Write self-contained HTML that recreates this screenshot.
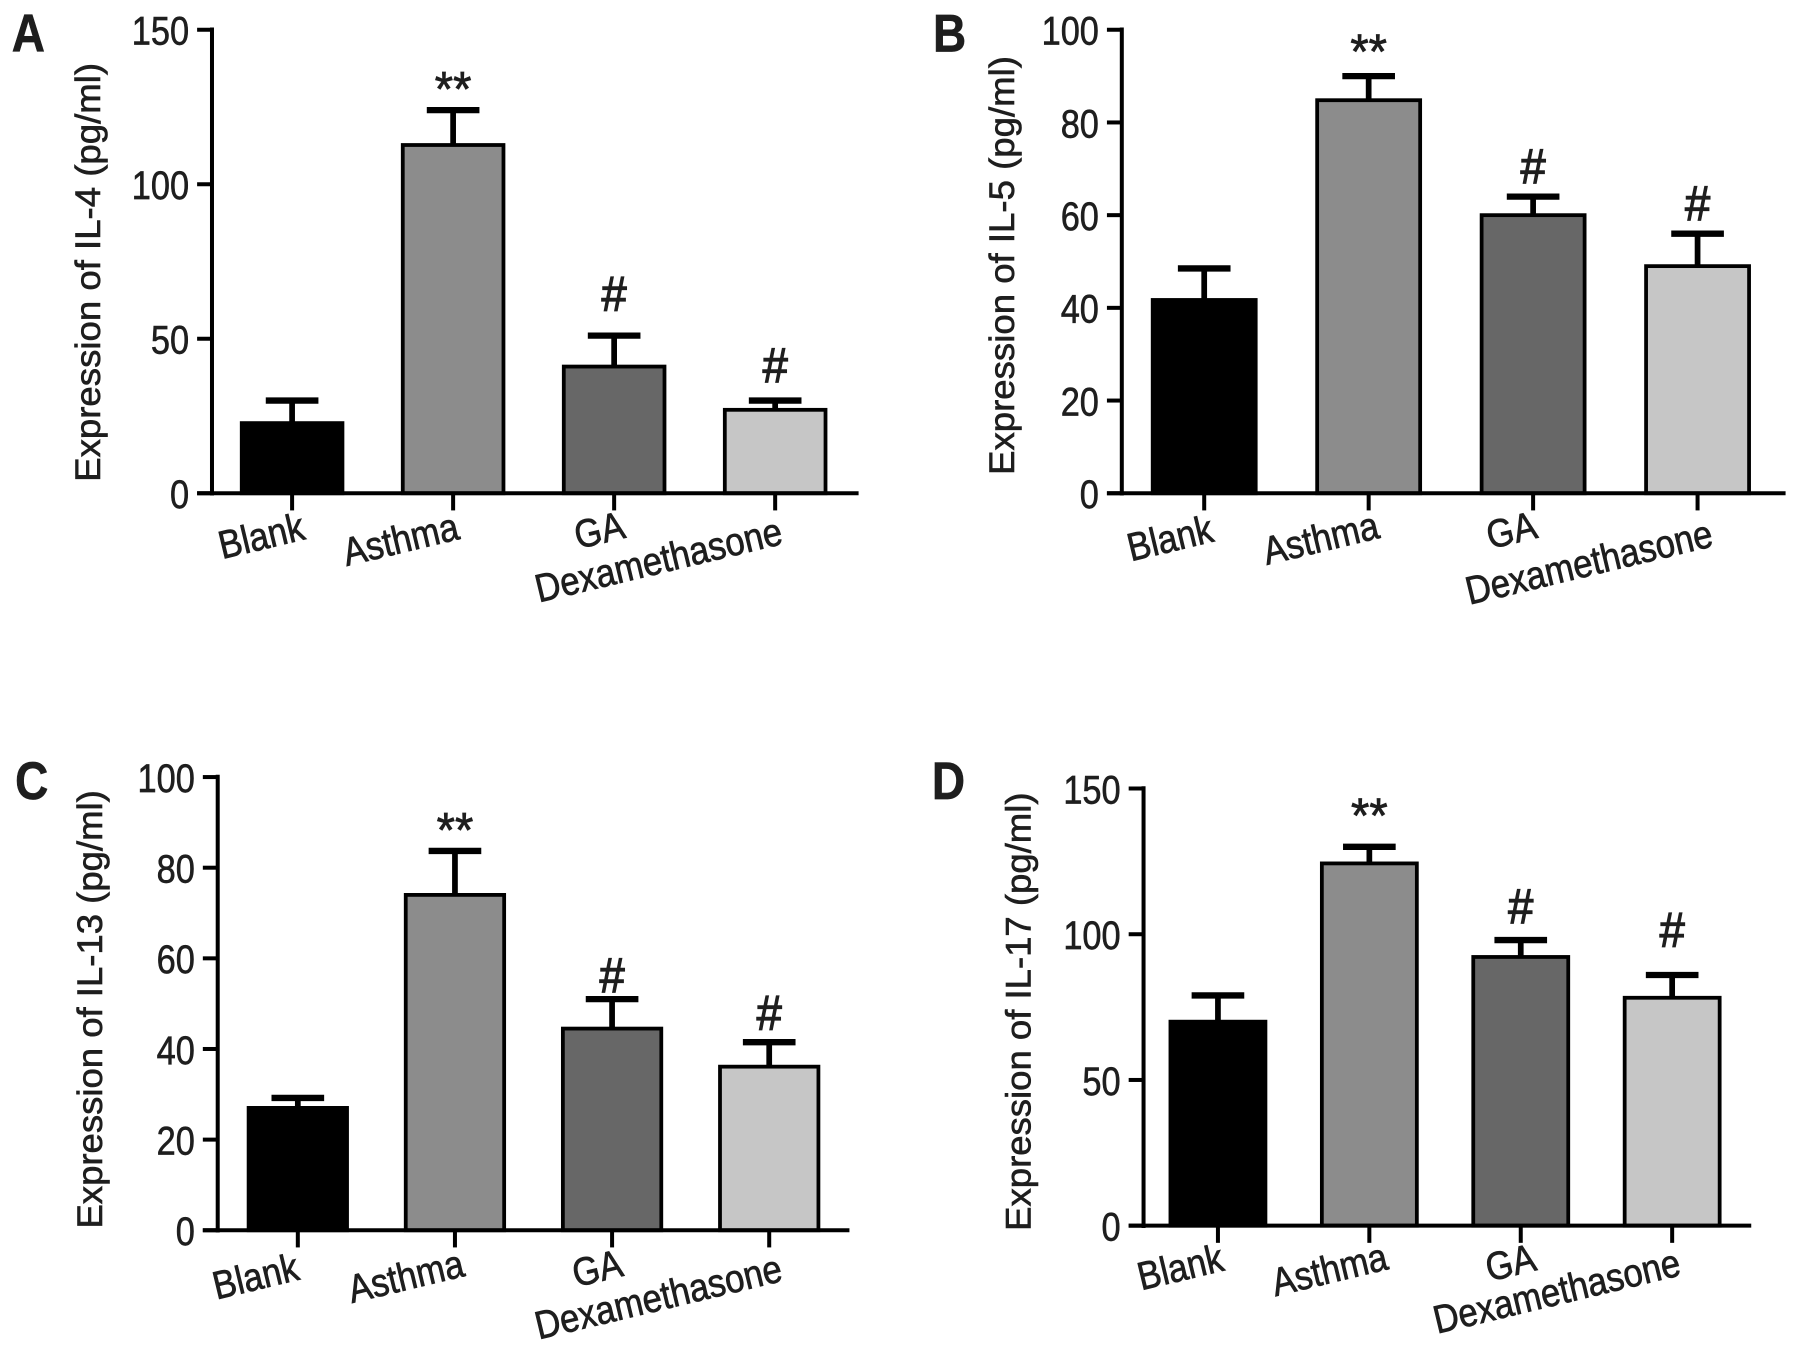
<!DOCTYPE html>
<html lang="en">
<head>
<meta charset="utf-8">
<title>Cytokine expression bar charts</title>
<style>
html,body{margin:0;padding:0;background:#fff;}
svg{display:block;}
text{font-family:"Liberation Sans",sans-serif;fill:#1e1e1e;stroke:#1e1e1e;stroke-width:.55px;}
</style>
</head>
<body>
<svg id="figure" xmlns="http://www.w3.org/2000/svg" width="1795" height="1355" viewBox="0 0 1568 1184"></svg>
<script>
const categories = ['Blank', 'Asthma', 'GA', 'Dexamethasone'];
const significance = ['', '**', '#', '#'];

const il4Values = [22.7, 112.7, 41, 27];
const il4ErrorTops = [30, 124, 51, 30];
const il4Ticks = [0, 50, 100, 150];

const il5Values = [41.7, 84.8, 60, 49];
const il5ErrorTops = [48.5, 90, 64, 56];
const il5Ticks = [0, 20, 40, 60, 80, 100];

const il13Values = [27, 74, 44.5, 36.1];
const il13ErrorTops = [29.2, 83.7, 51, 41.5];
const il13Ticks = [0, 20, 40, 60, 80, 100];

const il17Values = [70, 124.3, 92.2, 78.2];
const il17ErrorTops = [79, 130, 98, 86];
const il17Ticks = [0, 50, 100, 150];

const barColors = ['#000000', '#8c8c8c', '#676767', '#c6c6c6'];
const NS = 'http://www.w3.org/2000/svg';
const svg = document.getElementById('figure');

const panels = [
  {id:'a', letter:'A', letterX:10, letterY:45, title:'Expression of IL-4 (pg/ml)', titleX:87, titleLen:366, titleY:238,
   values:il4Values, tops:il4ErrorTops, ticks:il4Ticks,
   axisX:185, top:26, bottom:431, right:750, first:255, step:140.7, barW:88,
   sigGap:[0,23,36,30], labelDx:[-27,-46,-13,-102], labelDy:[37,40,32,58]},
  {id:'b', letter:'B', letterX:815, letterY:45, title:'Expression of IL-5 (pg/ml)', titleX:886, titleLen:366, titleY:232,
   values:il5Values, tops:il5ErrorTops, ticks:il5Ticks,
   axisX:980, top:26, bottom:431, right:1560, first:1052, step:143.7, barW:90,
   sigGap:[0,26,26,26], labelDx:[-30,-42,-19,-95], labelDy:[39,39,32,60]},
  {id:'c', letter:'C', letterX:13, letterY:698, title:'Expression of IL-13 (pg/ml)', titleX:89, titleLen:383, titleY:882,
   values:il13Values, tops:il13ErrorTops, ticks:il13Ticks,
   axisX:190, top:679, bottom:1075, right:742, first:260, step:137.3, barW:86,
   sigGap:[0,23,20,25], labelDx:[-37,-43,-13,-97], labelDy:[40,40,33,58]},
  {id:'d', letter:'D', letterX:814, letterY:698, title:'Expression of IL-17 (pg/ml)', titleX:900, titleLen:383, titleY:884,
   values:il17Values, tops:il17ErrorTops, ticks:il17Ticks,
   axisX:999, top:689, bottom:1071, right:1530, first:1064, step:132.3, barW:83,
   sigGap:[0,32,29,39], labelDx:[-33,-35,-9,-101], labelDy:[36,38,32,57]}
];

function make(tag, attrs, parent, txt) {
  const el = document.createElementNS(NS, tag);
  Object.keys(attrs).forEach(function (k) { el.setAttribute(k, attrs[k]); });
  if (txt !== undefined) el.textContent = txt;
  parent.appendChild(el);
  return el;
}

panels.forEach(function (p) {
  const maxTick = p.ticks[p.ticks.length - 1];
  const yScale = function (v) { return p.bottom - (v / maxTick) * (p.bottom - p.top); };
  const xScale = function (i) { return p.first + p.step * i; };

  const g = make('g', {}, svg);
  
  

  const letter = make('text', {x:p.letterX, y:p.letterY, 'font-size':46, 'font-weight':'bold', textLength:29, lengthAdjust:'spacingAndGlyphs'}, g, p.letter);
  
  

  const title = make('text', {x:0, y:0, 'font-size':31, 'text-anchor':'middle', textLength:p.titleLen, lengthAdjust:'spacingAndGlyphs', transform:'translate(' + p.titleX + ' ' + p.titleY + ') rotate(-90)'}, g, p.title);
  
  

  categories.forEach(function (cat, i) {
    const cx = xScale(i);
    const yV = yScale(p.values[i]);
    const yT = yScale(p.tops[i]);

    const stem = make('line', {x1:cx, x2:cx, y1:yV, y2:yT, stroke:'#000', 'stroke-width':5}, g);
    
    

    const cap = make('line', {x1:cx - 23, x2:cx + 23, y1:yT, y2:yT, stroke:'#000', 'stroke-width':5.5}, g);
    
    

    const bar = make('rect', {x:cx - p.barW / 2, y:yV, width:p.barW, height:p.bottom - yV, fill:barColors[i], stroke:'#000', 'stroke-width':3.3}, g);
    
    

    const xTick = make('line', {x1:cx, x2:cx, y1:p.bottom, y2:p.bottom + 15, stroke:'#000', 'stroke-width':3.5}, g);
    
    

    const lx = cx + p.labelDx[i];
    const ly = p.bottom + p.labelDy[i];
    const label = make('text', {x:0, y:0, 'font-size':30, 'text-anchor':'middle', 'dominant-baseline':'central', transform:'translate(' + lx + ' ' + ly + ') rotate(-13.5) scale(1.01 1.15)'}, g, cat);
    
    

    if (significance[i]) {
      const isHash = significance[i] === '#';
      const sig = make('text', {x:cx, y:yT - p.sigGap[i] + (isHash ? 0 : 5), 'font-size':43, 'text-anchor':'middle', 'dominant-baseline':'central', textLength:isHash ? 22 : 32, lengthAdjust:'spacingAndGlyphs', 'stroke-width':isHash ? 1.1 : 0.7}, g, significance[i]);
      sig.style.strokeWidth = isHash ? '1.1px' : '.7px';
      
      
    }
  });

  const yAxis = make('line', {x1:p.axisX, x2:p.axisX, y1:p.top - 2, y2:p.bottom + 2, stroke:'#000', 'stroke-width':3.5}, g);
  
  

  const xAxis = make('line', {x1:p.axisX - 13, x2:p.right, y1:p.bottom, y2:p.bottom, stroke:'#000', 'stroke-width':3.5}, g);
  
  

  p.ticks.forEach(function (t) {
    const y = yScale(t);
    const tick = make('line', {x1:p.axisX - 13, x2:p.axisX, y1:y, y2:y, stroke:'#000', 'stroke-width':3.5}, g);
    
    

    const str = String(t);
    const tl = make('text', {x:p.axisX - 20, y:y + 13, 'font-size':35, 'text-anchor':'end', textLength:str.length * 16.7, lengthAdjust:'spacingAndGlyphs'}, g, str);
    
    
  });
});
</script>
</body>
</html>
